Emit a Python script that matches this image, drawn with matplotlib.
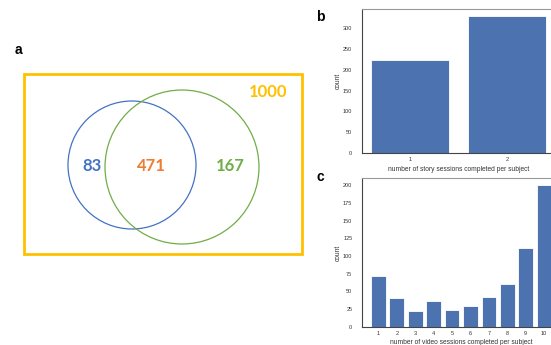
import matplotlib
matplotlib.use("Agg")
import matplotlib.pyplot as plt
from matplotlib.patches import Circle, Rectangle

# Venn counts
only_story = 83
both = 471
only_video = 167
total = 1000

# sessions completed per subject
story_sessions = [1, 2]
story_counts = [224, 330]
video_sessions = [1, 2, 3, 4, 5, 6, 7, 8, 9, 10]
video_counts = [72, 40, 22, 37, 24, 29, 42, 61, 111, 200]

blue = "#4472C4"
green = "#70AD47"
orange = "#ED7D31"
gold = "#FFC000"
bar_blue = "#4C72B0"

plt.rcParams["font.family"] = ["Liberation Sans", "DejaVu Sans"]

W, H = 551, 345
fig = plt.figure(figsize=(W / 100, H / 100), dpi=100)

# --- panel a: venn diagram drawn in pixel units ---
va = fig.add_axes([0, 0, 1, 1], zorder=0)
va.set_xlim(0, W)
va.set_ylim(H, 0)
va.axis("off")

va.add_patch(Rectangle((24, 74), 278, 180, fill=False, ec=gold, lw=2))
va.add_patch(Circle((132, 165), 64, fill=False, ec=blue, lw=0.9))
va.add_patch(Circle((182, 167), 77, fill=False, ec=green, lw=0.9))

num_font = dict(family=["Lato", "DejaVu Sans"], fontweight="bold", fontsize=12,
                ha="center", va="center")
va.text(268, 92, str(total), color=gold, **num_font)
va.text(92, 166, str(only_story), color=blue, **num_font)
va.text(151, 166, str(both), color=orange, **num_font)
va.text(230, 166, str(only_video), color=green, **num_font)

lab_font = dict(fontweight="bold", fontsize=10, ha="center", va="center")
va.text(18, 50, "a", **lab_font)
va.text(320, 17, "b", **lab_font)
va.text(320, 177, "c", **lab_font)


def style_bar_axes(ax):
    for side in ["left", "bottom"]:
        ax.spines[side].set_color("#444444")
        ax.spines[side].set_linewidth(0.8)
    ax.spines["top"].set_color("#999999")
    ax.spines["top"].set_linewidth(0.8)
    ax.spines["right"].set_color("#999999")
    ax.tick_params(axis="both", length=0, labelsize=4, labelcolor="#333333")
    ax.tick_params(axis="y", pad=7)
    ax.tick_params(axis="x", pad=3)


# --- panel b: story sessions ---
axb = fig.add_axes([362 / W, 1 - 153 / H, 193 / W, 144 / H], zorder=1)
axb.bar(story_sessions, story_counts, width=0.8, color=bar_blue,
        edgecolor="white", linewidth=0.6)
axb.set_xticks(story_sessions)
axb.set_yticks(range(0, 301, 50))
axb.set_xlabel("number of story sessions completed per subject",
               fontsize=4.75, color="#333333", labelpad=2.5)
axb.set_ylabel("count", fontsize=4.75, color="#333333", labelpad=1)
style_bar_axes(axb)

# --- panel c: video sessions ---
axc = fig.add_axes([362 / W, 1 - 326.7 / H, 198.5 / W, 148.4 / H], zorder=1)
axc.bar(video_sessions, video_counts, width=0.8, color=bar_blue,
        edgecolor="white", linewidth=0.6)
axc.set_xticks(video_sessions)
axc.set_yticks(range(0, 201, 25))
axc.set_xlabel("number of video sessions completed per subject",
               fontsize=4.8, color="#333333", labelpad=2)
axc.set_ylabel("count", fontsize=4.75, color="#333333", labelpad=1)
style_bar_axes(axc)

fig.savefig("out.png", dpi=100)
